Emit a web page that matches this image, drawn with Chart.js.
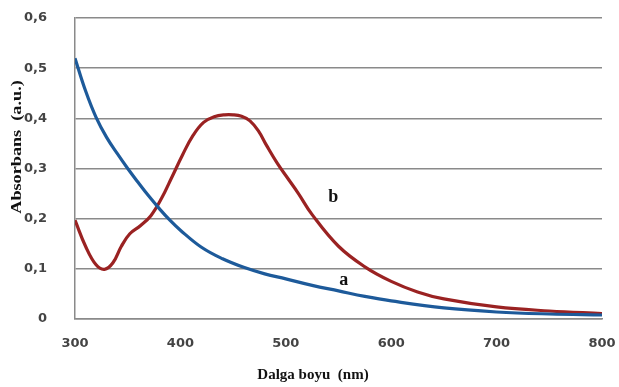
<!DOCTYPE html>
<html>
<head>
<meta charset="utf-8">
<script src="https://cdn.jsdelivr.net/npm/chart.js@4/dist/chart.umd.min.js"></script>
<style>
  html, body { margin: 0; padding: 0; background: #fff; }
  #wrap { width: 619px; height: 387px; }
</style>
</head>
<body>
<div id="wrap"><canvas id="chart"></canvas></div>
<script>
// curve a (blue)
const waveA = [300, 310, 320, 330, 340, 350, 360, 370, 380, 390, 400, 420, 440, 460, 480, 500, 525, 550, 575, 600, 650, 700, 750, 800];
const absA  = [0.52, 0.455, 0.402, 0.362, 0.33, 0.30, 0.272, 0.245, 0.22, 0.197, 0.177, 0.143, 0.12, 0.103, 0.09, 0.08, 0.067, 0.056, 0.045, 0.036, 0.022, 0.014, 0.01, 0.008];

// curve b (red)
const waveB = [300, 310, 320, 328, 336, 344, 352, 362, 372, 382, 392, 402, 412, 422, 432, 442, 450, 458, 466, 474, 482, 492, 502, 512, 525, 550, 575, 600, 625, 650, 700, 750, 800];
const absB  = [0.197, 0.145, 0.108, 0.099, 0.112, 0.145, 0.17, 0.186, 0.206, 0.24, 0.283, 0.327, 0.366, 0.392, 0.403, 0.407, 0.407, 0.404, 0.395, 0.375, 0.345, 0.31, 0.28, 0.25, 0.208, 0.145, 0.104, 0.075, 0.054, 0.04, 0.024, 0.016, 0.011];

const xTickLabels = ["300", "400", "500", "600", "700", "800"];
const yTickLabels = ["0", "0,1", "0,2", "0,3", "0,4", "0,5", "0,6"];

// curve letters: [text, wavelength, absorbance]
const curveLabels = [["a", 555, 0.077], ["b", 545, 0.243]];

const xTitle = "Dalga boyu  (nm)";
const yTitle = "Absorbans  (a.u.)";

function toPoints(xs, ys) {
    return xs.map((x, i) => ({ x: x, y: ys[i] }));
}

// draws the axis titles and the a / b letters
const textPlugin = {
    id: "textPlugin",
    afterDraw(chart) {
        const ctx = chart.ctx;
        const xs = chart.scales.x;
        const ys = chart.scales.y;
        ctx.save();
        ctx.fillStyle = "#111";
        ctx.textAlign = "center";
        ctx.textBaseline = "middle";
        ctx.font = "bold 18px 'Liberation Serif'";
        curveLabels.forEach(([t, wx, wy]) => {
            ctx.fillText(t, xs.getPixelForValue(wx), ys.getPixelForValue(wy));
        });
        ctx.font = "bold 15px 'Liberation Serif'";
        ctx.fillText(xTitle, 313, 375);
        ctx.translate(17, 147);
        ctx.rotate(-Math.PI / 2);
        ctx.scale(1.3, 1);   // the original title is stretched
        ctx.font = "bold 14px 'Liberation Serif'";
        ctx.fillText(yTitle, 0, 0);
        ctx.restore();
    }
};

new Chart(document.getElementById("chart"), {
    type: "line",
    data: {
        datasets: [
            {
                label: "a",
                data: toPoints(waveA, absA),
                borderColor: "#1d5a9a",
                borderWidth: 3.2,
                pointRadius: 0,
                tension: 0.4,
                fill: false
            },
            {
                label: "b",
                data: toPoints(waveB, absB),
                borderColor: "#9a2222",
                borderWidth: 3.2,
                pointRadius: 0,
                tension: 0.4,
                fill: false
            }
        ]
    },
    options: {
        responsive: true,
        maintainAspectRatio: false,
        animation: false,
        layout: { padding: { top: 18, right: 17, left: 0, bottom: 0 } },
        plugins: {
            legend: { display: false },
            tooltip: { enabled: false }
        },
        scales: {
            x: {
                type: "linear",
                min: 300,
                max: 800,
                afterFit: (s) => {
                    s.height = 68;
                    s.paddingLeft = 0;
                    s.paddingRight = 0;
                },
                grid: { display: false, drawTicks: false },
                border: { display: true, color: "#8a8a8a", width: 1.5 },
                ticks: {
                    stepSize: 100,
                    padding: 17,
                    color: "#444",
                    font: { family: "'DejaVu Sans'", size: 13, weight: "bold" },
                    callback: (v) => xTickLabels[(v - 300) / 100]
                }
            },
            y: {
                min: 0,
                max: 0.6,
                afterFit: (s) => {
                    s.width = 75;
                    s.paddingTop = 0;
                    s.paddingBottom = 0;
                },
                grid: { color: "#8a8a8a", lineWidth: 1.5, drawTicks: false },
                border: { display: true, color: "#8a8a8a", width: 1.5 },
                ticks: {
                    stepSize: 0.1,
                    padding: 28,
                    color: "#444",
                    font: { family: "'DejaVu Sans'", size: 13, weight: "bold" },
                    callback: (v) => yTickLabels[Math.round(v * 10)]
                }
            }
        }
    },
    plugins: [textPlugin]
});
</script>
</body>
</html>
